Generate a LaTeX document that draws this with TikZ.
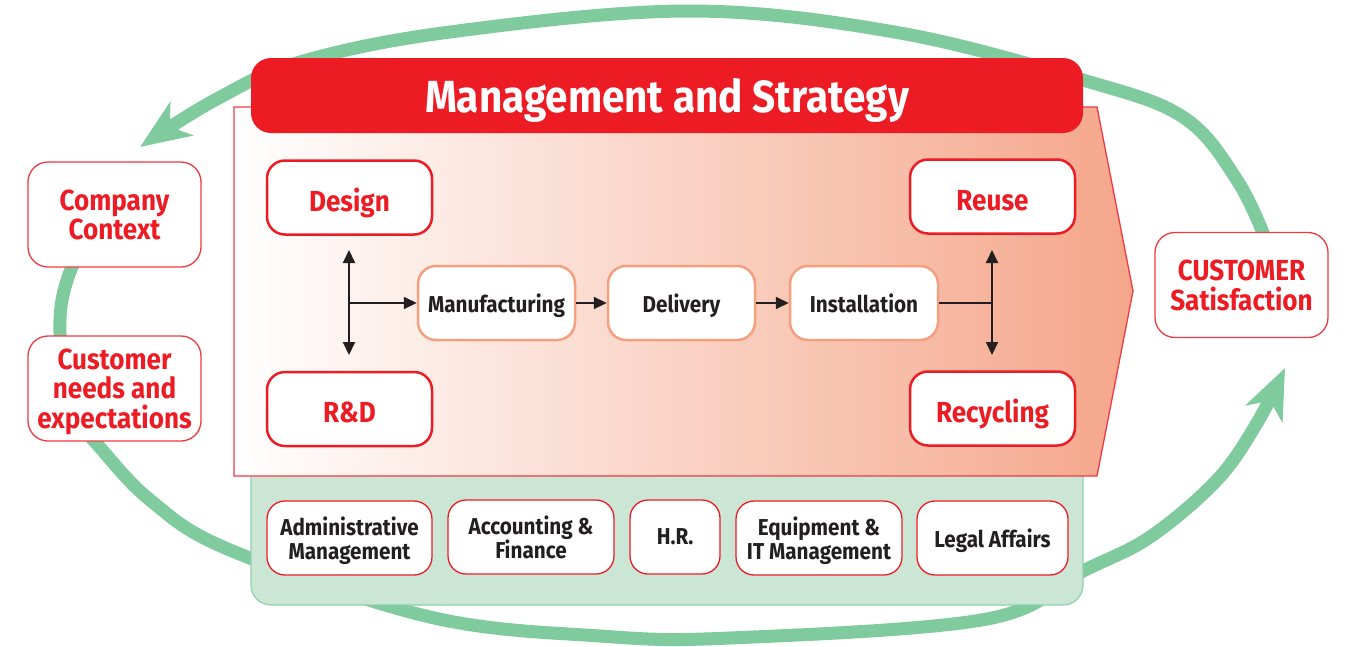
\documentclass[tikz,border=0pt]{standalone}
\usepackage{fontspec}
\setmainfont{Fira Sans}[FakeStretch=0.9]
\usetikzlibrary{arrows.meta}

\definecolor{brandred}{HTML}{ED1C24}
\definecolor{ink}{HTML}{231F20}
\definecolor{ringgreen}{HTML}{80CB9E}
\definecolor{panelfill}{HTML}{CCE6D5}
\definecolor{panelline}{HTML}{8FD0A8}
\definecolor{peach}{HTML}{F5A68A}
\definecolor{procline}{HTML}{F4A07F}
\definecolor{edgered}{HTML}{EF3A42}

\tikzset{
  base/.style={fill=white, align=center, inner sep=0pt, text depth=0pt},
  stagebox/.style={base, draw=brandred, line width=2.5pt, rounded corners=18pt,
    text=brandred, font=\bfseries\fontsize{29}{30}\selectfont, text height=27pt,
    minimum width=165pt, minimum height=74pt},
  outerbox/.style={base, draw=edgered, line width=1.3pt, rounded corners=20pt,
    text=brandred, font=\bfseries\fontsize{29}{29.5}\selectfont,
    minimum width=173pt, minimum height=105pt},
  procbox/.style={base, draw=procline, line width=2.5pt, rounded corners=18pt,
    text=ink, font=\bfseries\fontsize{23}{24}\selectfont, minimum height=74pt},
  supportbox/.style={base, draw=brandred, line width=1.3pt, rounded corners=18pt,
    text=ink, font=\bfseries\fontsize{23}{24}\selectfont, minimum height=74pt},
  flow/.style={draw=ink, line width=2pt, -{Triangle[length=13pt,width=12pt]}},
  flowline/.style={draw=ink, line width=2pt},
  ringline/.style={draw=ringgreen, line width=13pt},
  ringhead/.style={-{Stealth[length=50pt,width=40pt,inset=14pt]}},
}

\begin{document}
\begin{tikzpicture}[x=1pt,y=-1pt]
\useasboundingbox (0,0) rectangle (1345,646);

% green cycle behind everything
\draw[ringline, ringhead] plot[smooth, tension=0.6] coordinates {
  (1268,245) (1237,180) (1183,117) (1083,80) (900,33) (690,11)
  (450,32) (300,62) (215,100) (140,147)};
\draw[ringline] plot[smooth, tension=0.6] coordinates {
  (88,240) (72,267) (62,300) (60,333) (64,362)};
\draw[ringline, ringhead] plot[smooth, tension=0.6] coordinates {
  (72,415) (96,443) (150,500) (230,550) (430,617) (600,636) (730,638)
  (987,619) (1083,571) (1150,537) (1217,480) (1257,423) (1285,368)};

% support panel
\draw[fill=panelfill, draw=panelline, line width=1.2pt, rounded corners=20pt]
  (251,440) rectangle (1083,605);

% value-chain arrow
\path[left color=white, right color=peach, draw=edgered, line width=1.3pt]
  (234,107) -- (1097,107) -- (1133,291) -- (1097,476) -- (234,476) -- cycle;

% header
\node[fill=brandred, rounded corners=20pt, minimum width=832pt, minimum height=75pt,
  inner sep=0pt, text depth=0pt, text=white, font=\bfseries\fontsize{45}{46}\selectfont]
  (header) at (667,95.5) {Management and Strategy};

% stage boxes
\node[stagebox] (design) at (349.5,197.5) {Design};
\node[stagebox] (rd) at (349.5,409) {R\&D};
\node[stagebox] (reuse) at (992.5,196.5) {Reuse};
\node[stagebox] (recycling) at (992.5,408.5) {Recycling};

% outer boxes
\node[outerbox] (context) at (114.5,214.5) {Company\\Context};
\node[outerbox] (needs) at (114.5,388.5) {Customer\\needs and\\expectations};
\node[outerbox] (satisfaction) at (1241.5,285) {CUSTOMER\\Satisfaction};

% process boxes
\node[procbox, minimum width=157pt] (manufacturing) at (496.5,303) {Manufacturing};
\node[procbox, minimum width=147pt] (delivery) at (681.5,303) {Delivery};
\node[procbox, minimum width=148pt] (installation) at (864,303) {Installation};

% support boxes
\node[supportbox, minimum width=165pt] (admin) at (349.5,538) {Administrative\\Management};
\node[supportbox, minimum width=166pt] (accounting) at (531,537) {Accounting \&\\Finance};
\node[supportbox, minimum width=90pt] (hr) at (675,537) {H.R.};
\node[supportbox, minimum width=166pt] (equipment) at (819,538) {Equipment \&\\IT Management};
\node[supportbox, minimum width=151pt] (legal) at (992.5,538) {Legal Affairs};

% flow connectors
\coordinate (lj) at (349,303);
\coordinate (lt) at (349,250);
\coordinate (lb) at (349,355);
\coordinate (rj) at (992,303);
\coordinate (rt) at (992,250);
\coordinate (rb) at (992,355);

\draw[flow] (lj) -- (lt);
\draw[flow] (lj) -- (lb);
\draw[flow] (lj) -- (manufacturing.west);
\draw[flow] (manufacturing.east) -- (delivery.west);
\draw[flow] (delivery.east) -- (installation.west);
\draw[flowline] (installation.east) -- (rj);
\draw[flow] (rj) -- (rt);
\draw[flow] (rj) -- (rb);
\end{tikzpicture}
\end{document}
